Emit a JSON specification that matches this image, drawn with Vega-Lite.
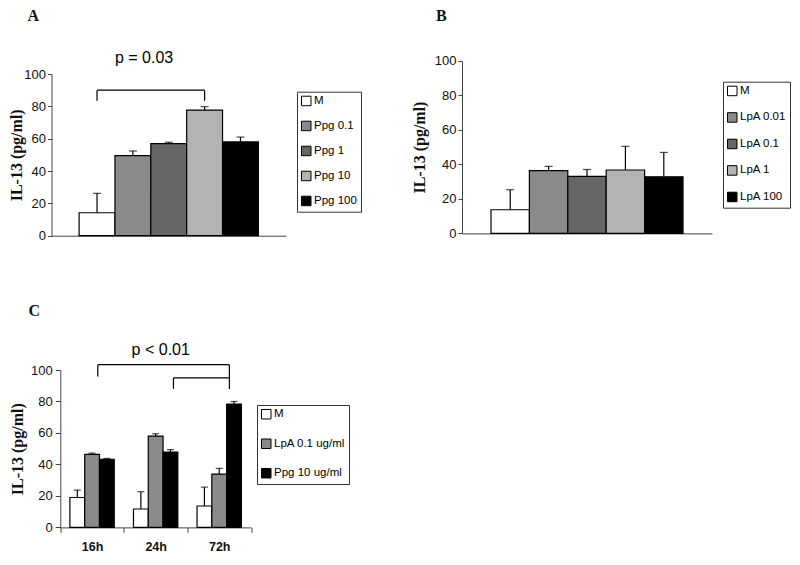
{
  "$schema": "https://vega.github.io/schema/vega-lite/v6.json",
  "background": "white",
  "padding": {"left": 7.5, "top": 7, "right": 0, "bottom": 0},
  "datasets": {
    "a": [
      {"s": "M", "v": 14.2, "e": 26.2},
      {"s": "Ppg 0.1", "v": 49.5, "e": 52.4},
      {"s": "Ppg 1", "v": 57, "e": 57.8},
      {"s": "Ppg 10", "v": 77.7, "e": 79.8},
      {"s": "Ppg 100", "v": 58, "e": 61}
    ],
    "aBracket": [
      {"x": "M", "x2": "Ppg 10", "y": 90, "y2": 90},
      {"x": "M", "x2": "M", "y": 83.5, "y2": 90},
      {"x": "Ppg 10", "x2": "Ppg 10", "y": 83.5, "y2": 90}
    ],
    "aText": [{"x": "Ppg 0.1", "y": 107, "t": "p = 0.03"}],
    "b": [
      {"s": "M", "v": 13.7, "e": 25.3},
      {"s": "LpA 0.01", "v": 36.3, "e": 38.8},
      {"s": "LpA 0.1", "v": 33, "e": 37},
      {"s": "LpA 1", "v": 36.7, "e": 50.4},
      {"s": "LpA 100", "v": 32.8, "e": 46.9}
    ],
    "c": [
      {"t": "16h", "s": "M", "v": 19, "e": 23.7},
      {"t": "16h", "s": "LpA 0.1 ug/ml", "v": 46.4, "e": 47.2},
      {"t": "16h", "s": "Ppg 10 ug/ml", "v": 43.2, "e": 43.8},
      {"t": "24h", "s": "M", "v": 11.7, "e": 22.7},
      {"t": "24h", "s": "LpA 0.1 ug/ml", "v": 58, "e": 59.5},
      {"t": "24h", "s": "Ppg 10 ug/ml", "v": 47.9, "e": 49.4},
      {"t": "72h", "s": "M", "v": 13.6, "e": 25.6},
      {"t": "72h", "s": "LpA 0.1 ug/ml", "v": 33.9, "e": 37.5},
      {"t": "72h", "s": "Ppg 10 ug/ml", "v": 78.4, "e": 80}
    ],
    "cBracket": [
      {"x": 0.59, "x2": 2.66, "y": 103.4, "y2": 103.4},
      {"x": 0.59, "x2": 0.59, "y": 95.8, "y2": 103.4},
      {"x": 2.66, "x2": 2.66, "y": 88, "y2": 103.4},
      {"x": 1.78, "x2": 2.66, "y": 95, "y2": 95},
      {"x": 1.78, "x2": 1.78, "y": 88, "y2": 95}
    ],
    "cText": [{"x": 1.58, "y": 109.8, "t": "p < 0.01"}]
  },
  "config": {
    "view": {"stroke": null},
    "axis": {
      "grid": false,
      "domainColor": "#444",
      "tickColor": "#444",
      "tickSize": 4,
      "labelOverlap": false,
      "labelSeparation": -20,
      "labelFont": "Liberation Sans",
      "labelFontSize": 13,
      "labelColor": "#111",
      "titleFont": "Liberation Serif",
      "titleFontSize": 16,
      "titleFontWeight": "bold",
      "titleColor": "#111"
    },
    "legend": {
      "strokeColor": "#333",
      "padding": 3.5,
      "symbolType": "square",
      "symbolSize": 90,
      "symbolStrokeColor": "black",
      "symbolStrokeWidth": 1,
      "labelFont": "Liberation Sans",
      "labelFontSize": 11.5,
      "labelColor": "black",
      "labelOffset": 2
    },
    "title": {"font": "Liberation Serif", "fontSize": 16, "fontWeight": "bold", "color": "#111", "anchor": "start", "frame": "group"}
  },
  "resolve": {"scale": {"x": "independent", "y": "independent", "color": "independent", "xOffset": "independent"}},
  "spacing": 55,
  "vconcat": [
    {
      "spacing": 49.5,
      "resolve": {"scale": {"x": "independent", "y": "independent", "color": "independent"}},
      "hconcat": [
        {
          "width": 234.5,
          "height": 161.7,
          "title": {"text": "A", "dx": -24, "offset": 26},
          "layer": [
            {
              "data": {"name": "a"},
              "mark": {"type": "bar", "stroke": "black", "strokeWidth": 1.2},
              "encoding": {
                "x": {"field": "s", "type": "nominal", "sort": null, "scale": {"paddingInner": 0, "paddingOuter": 0.77}, "axis": {"labels": false, "ticks": false, "title": null}},
                "y": {"field": "v", "type": "quantitative", "scale": {"domain": [0, 100], "nice": false}, "axis": {"tickCount": 5, "labelOverlap": false, "title": "IL-13 (pg/ml)", "titlePadding": -0.5, "labelPadding": 2}},
                "color": {"field": "s", "type": "nominal", "sort": null,
                  "scale": {"domain": ["M", "Ppg 0.1", "Ppg 1", "Ppg 10", "Ppg 100"], "range": ["white", "#8a8a8a", "#666666", "#b3b3b3", "black"]},
                  "legend": {"title": null, "orient": "none", "legendX": 245.5, "legendY": 17.7, "rowPadding": 11}}
              }
            },
            {
              "data": {"name": "a"},
              "mark": {"type": "rule", "color": "black", "strokeWidth": 1.2},
              "encoding": {"x": {"field": "s", "type": "nominal", "sort": null}, "y": {"field": "v", "type": "quantitative"}, "y2": {"field": "e"}}
            },
            {
              "data": {"name": "a"},
              "mark": {"type": "tick", "color": "black", "size": 8, "thickness": 1.2},
              "encoding": {"x": {"field": "s", "type": "nominal", "sort": null}, "y": {"field": "e", "type": "quantitative"}}
            },
            {
              "data": {"name": "aBracket"},
              "mark": {"type": "rule", "color": "black", "strokeWidth": 1.2},
              "encoding": {"x": {"field": "x", "type": "nominal", "sort": null}, "x2": {"field": "x2"}, "y": {"field": "y", "type": "quantitative"}, "y2": {"field": "y2"}}
            },
            {
              "data": {"name": "aText"},
              "mark": {"type": "text", "font": "Liberation Sans", "fontSize": 16, "color": "black", "align": "left", "baseline": "alphabetic"},
              "encoding": {"x": {"field": "x", "type": "nominal", "sort": null, "bandPosition": 0}, "y": {"field": "y", "type": "quantitative"}, "text": {"field": "t"}}
            }
          ]
        },
        {
          "width": 250,
          "height": 159.4,
          "title": {"text": "B", "dx": -26, "offset": 31},
          "layer": [
            {
              "data": {"name": "b"},
              "mark": {"type": "bar", "stroke": "black", "strokeWidth": 1.2},
              "encoding": {
                "x": {"field": "s", "type": "nominal", "sort": null, "scale": {"paddingInner": 0, "paddingOuter": 0.755}, "axis": {"labels": false, "ticks": false, "title": null}},
                "y": {"field": "v", "type": "quantitative", "scale": {"domain": [0, 100], "nice": false, "range": [159.4, -13.3]}, "axis": {"tickCount": 5, "labelOverlap": false, "title": "IL-13 (pg/ml)", "titlePadding": 7, "labelPadding": 2}},
                "color": {"field": "s", "type": "nominal", "sort": null,
                  "scale": {"domain": ["M", "LpA 0.01", "LpA 0.1", "LpA 1", "LpA 100"], "range": ["white", "#8a8a8a", "#666666", "#b3b3b3", "black"]},
                  "legend": {"title": null, "orient": "none", "legendX": 261, "legendY": 7.7, "rowPadding": 12.5}}
              }
            },
            {
              "data": {"name": "b"},
              "mark": {"type": "rule", "color": "black", "strokeWidth": 1.2},
              "encoding": {"x": {"field": "s", "type": "nominal", "sort": null}, "y": {"field": "v", "type": "quantitative"}, "y2": {"field": "e"}}
            },
            {
              "data": {"name": "b"},
              "mark": {"type": "tick", "color": "black", "size": 8, "thickness": 1.2},
              "encoding": {"x": {"field": "s", "type": "nominal", "sort": null}, "y": {"field": "e", "type": "quantitative"}}
            }
          ]
        }
      ]
    },
    {
      "width": 199.5,
      "height": 157.4,
      "title": {"text": "C", "dx": -23, "offset": 23},
      "resolve": {"scale": {"x": "independent"}},
      "layer": [
        {
          "layer": [
            {
              "data": {"name": "c"},
              "mark": {"type": "bar", "stroke": "black", "strokeWidth": 1.2},
              "encoding": {
                "x": {"field": "t", "type": "nominal", "sort": null, "scale": {"paddingInner": 0, "paddingOuter": 0, "range": [8.8, 199.5]}, "axis": {"orient": "bottom", "title": null, "labelAngle": 0, "tickBand": "extent", "tickSize": 5, "labelPadding": 8, "labelFontWeight": "bold", "labelFontSize": 12.5}},
                "xOffset": {"field": "s", "type": "nominal", "sort": null, "scale": {"paddingInner": 0, "paddingOuter": 0.65}},
                "y": {"field": "v", "type": "quantitative", "scale": {"domain": [0, 100], "nice": false}, "axis": {"offset": -8.8, "tickCount": 5, "labelOverlap": false, "title": "IL-13 (pg/ml)", "titlePadding": 5.5, "labelPadding": 3, "tickSize": 5}},
                "color": {"field": "s", "type": "nominal", "sort": null,
                  "scale": {"domain": ["M", "LpA 0.1 ug/ml", "Ppg 10 ug/ml"], "range": ["white", "#8a8a8a", "black"]},
                  "legend": {"title": null, "orient": "none", "legendX": 205.5, "legendY": 35, "rowPadding": 15.5}}
              }
            },
            {
              "data": {"name": "c"},
              "mark": {"type": "rule", "color": "black", "strokeWidth": 1.2},
              "encoding": {"x": {"field": "t", "type": "nominal", "sort": null}, "xOffset": {"field": "s", "type": "nominal", "sort": null}, "y": {"field": "v", "type": "quantitative"}, "y2": {"field": "e"}}
            },
            {
              "data": {"name": "c"},
              "mark": {"type": "tick", "color": "black", "size": 7, "thickness": 1.2},
              "encoding": {"x": {"field": "t", "type": "nominal", "sort": null}, "xOffset": {"field": "s", "type": "nominal", "sort": null}, "y": {"field": "e", "type": "quantitative"}}
            }
          ]
        },
        {
          "layer": [
            {
              "data": {"name": "cBracket"},
              "mark": {"type": "rule", "color": "black", "strokeWidth": 1.2},
              "encoding": {"x": {"field": "x", "type": "quantitative", "scale": {"domain": [0, 3], "range": [8.8, 199.5]}, "axis": null}, "x2": {"field": "x2"}, "y": {"field": "y", "type": "quantitative"}, "y2": {"field": "y2"}}
            },
            {
              "data": {"name": "cText"},
              "mark": {"type": "text", "font": "Liberation Sans", "fontSize": 16, "color": "black", "align": "center", "baseline": "alphabetic"},
              "encoding": {"x": {"field": "x", "type": "quantitative", "axis": null}, "y": {"field": "y", "type": "quantitative"}, "text": {"field": "t"}}
            }
          ]
        }
      ]
    }
  ]
}
